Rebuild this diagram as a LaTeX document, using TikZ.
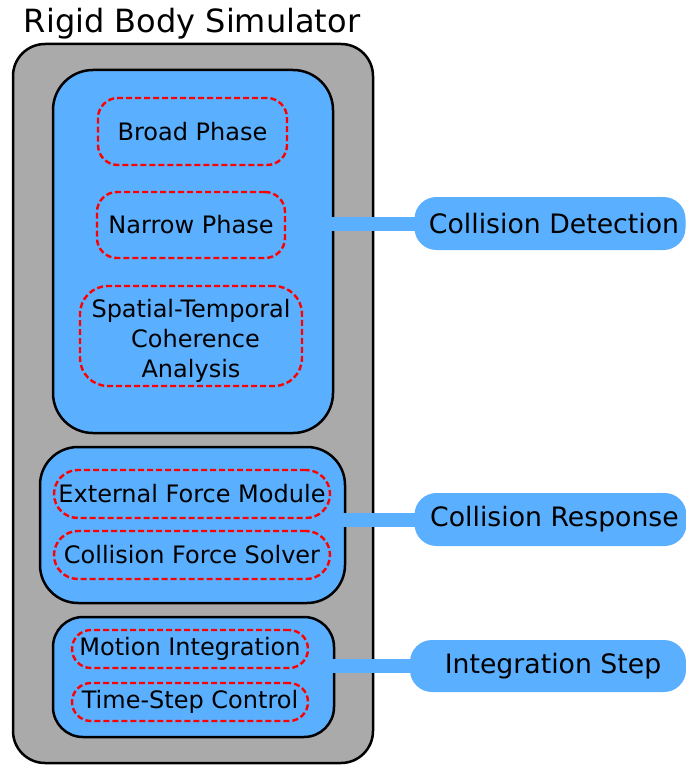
\documentclass[tikz,border=0pt]{standalone}
\usepackage{fontspec}
\setmainfont{DejaVu Sans}
\definecolor{boxblue}{HTML}{5AAFFF}
\definecolor{shellgray}{HTML}{AAAAAA}
\definecolor{dashred}{HTML}{FF0000}
\begin{document}
\begin{tikzpicture}[x=1pt,y=-1pt,
  group/.style={draw=black,line width=2.5pt,fill=boxblue,rounded corners=#1},
  part/.style={draw=dashred,line width=2.4pt,dash pattern=on 6pt off 3pt,
    rounded corners=#1,align=center,inner sep=0pt,
    font=\fontsize{24}{30}\selectfont},
  tag/.style={fill=boxblue,rounded corners=22pt,inner sep=0pt,
    font=\fontsize{26.7}{32}\selectfont},
  link/.style={draw=boxblue,line width=14pt}
]
\useasboundingbox (0,0) rectangle (685,765);

% title
\node[font=\fontsize{32}{36}\selectfont] (title) at (192,24) {Rigid Body Simulator};

% outer simulator shell
\node[draw=black,line width=2.5pt,fill=shellgray,rounded corners=32pt,
  minimum width=360pt,minimum height=719pt] (sim) at (193,403.5) {};

% subsystem groups
\node[group=40pt,minimum width=280pt,minimum height=363pt] (det) at (193,251.5) {};
\node[group=38pt,minimum width=305pt,minimum height=156pt] (resp) at (192.5,525) {};
\node[group=30pt,minimum width=281pt,minimum height=120pt] (integ) at (193.5,677) {};

% modules
\node[part=20pt,minimum width=189pt,minimum height=67pt] (broad) at (192.5,131.5) {Broad Phase};
\node[part=20pt,minimum width=188pt,minimum height=66pt] (narrow) at (191,225) {Narrow Phase};
\node[part=28pt,minimum width=222pt,minimum height=100pt] (coher) at (191,336)
  {\rule{0pt}{28pt}Spatial-Temporal\\\hspace*{9pt}Coherence\\Analysis};
\node[part=24pt,minimum width=276pt,minimum height=48pt] (ext) at (192,494) {External Force Module};
\node[part=24pt,minimum width=276pt,minimum height=48pt] (cfs) at (192,555) {Collision Force Solver};
\node[part=19pt,minimum width=236pt,minimum height=38pt] (motion) at (190,649) {Motion Integration};
\node[part=19pt,minimum width=236pt,minimum height=38pt] (tsc) at (190,702) {Time-Step Control};

% stage tags
\node[tag,minimum width=271pt,minimum height=53pt] (cd) at (550,223.5) {\hspace*{8pt}Collision Detection};
\node[tag,minimum width=272pt,minimum height=53pt] (cr) at (550.5,519.5) {\hspace*{8pt}Collision Response};
\node[tag,minimum width=276pt,minimum height=52pt] (is) at (548,666) {\hspace*{10pt}Integration Step};

% links from groups to tags
\draw[link] ([xshift=-4pt]det.east |- cd.west) -- ([xshift=1pt]cd.west);
\draw[link] ([xshift=-4pt]resp.east |- cr.west) -- ([xshift=1pt]cr.west);
\draw[link] ([xshift=-4pt]integ.east |- is.west) -- ([xshift=1pt]is.west);
\end{tikzpicture}
\end{document}
